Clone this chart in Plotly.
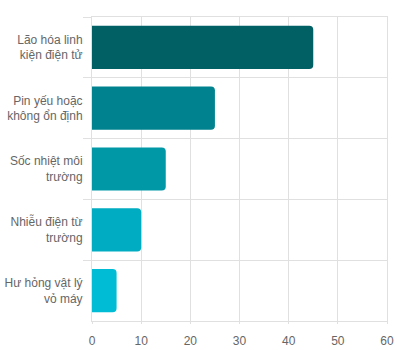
import plotly.graph_objects as go

categories = ["Lão hóa linh<br>kiện điện tử", "Pin yếu hoặc<br>không ổn định", "Sốc nhiệt môi<br>trường", "Nhiễu điện từ<br>trường", "Hư hỏng vật lý<br>vỏ máy"]
values = [45, 25, 15, 10, 5]
colors = ["#006064", "#00838F", "#0097A7", "#00ACC1", "#00BCD4"]
x_ticks = [0, 10, 20, 30, 40, 50, 60]

grid = "#e0e0e0"
fig = go.Figure(go.Bar(
    x=values, y=categories, orientation="h",
    marker=dict(color=colors, line=dict(width=0)),
    hoverinfo="x+y",
))
fig.update_layout(
    width=397, height=350,
    margin=dict(l=92, r=10, t=17, b=29, autoexpand=False),
    paper_bgcolor="white", plot_bgcolor="white",
    bargap=0.29, barcornerradius=4,
    showlegend=False,
    font=dict(family="Liberation Sans, Arial, sans-serif", size=12, color="#666666"),
)
fig.update_xaxes(
    range=[0, 60], tickvals=x_ticks, showgrid=True, gridcolor=grid, gridwidth=1,
    zeroline=False, showline=True, linecolor=grid, mirror=True,
    ticks="outside", ticklen=2, tickcolor=grid, ticklabelstandoff=7, automargin=False,
    tickfont=dict(size=12, color="#666666"),
)
fig.update_yaxes(
    autorange="reversed", tickson="boundaries", showgrid=True, gridcolor=grid, gridwidth=1,
    ticks="outside", ticklen=8, tickcolor=grid, showline=True, linecolor=grid, mirror=True,
    ticklabelstandoff=6, automargin=False,
    tickfont=dict(size=12, color="#666666"),
)
fig.write_html("out.html")
